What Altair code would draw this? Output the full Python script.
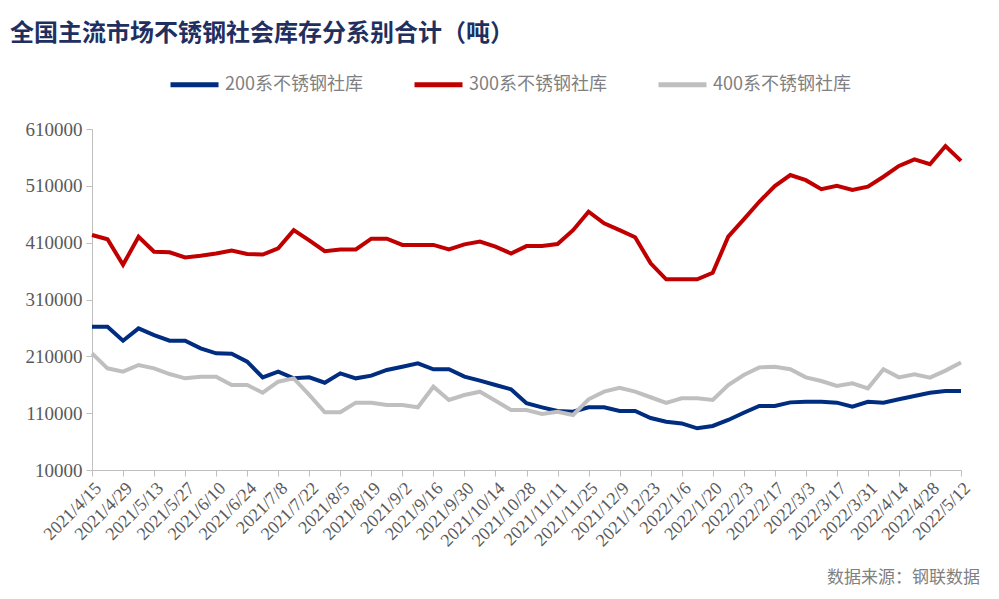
import altair as alt
import pandas as pd

# weekly dates (categories)
dates = [f"{d.year}/{d.month}/{d.day}" for d in pd.date_range("2021-04-15", periods=57, freq="7D")]
tick_labels = dates[::2]

series_names = ["200系不锈钢社库", "300系不锈钢社库", "400系不锈钢社库"]
colors = ["#002d80", "#c00000", "#bfbfbf"]

s200 = [262200, 262200, 237500, 259300, 247500, 237500, 237500, 224000, 215300, 214700,
        200600, 173000, 183000, 171300, 173000, 163600, 180000, 171300, 176000, 186000,
        191800, 197700, 187200, 187200, 174200, 167200, 159600, 152000, 127400, 120300,
        113800, 112600, 120300, 120300, 113800, 113800, 101500, 95000, 92000, 83400,
        87500, 98000, 110800, 122600, 122600, 129000, 130000, 130000, 128500, 121400,
        130000, 128500, 134400, 140200, 146000, 149000, 149000]
s300 = [423500, 416000, 371000, 420500, 394000, 393000, 384000, 387000, 391000, 396000,
        390000, 389000, 400000, 432000, 414000, 395000, 398000, 398000, 417000, 417000,
        406000, 406000, 406000, 398000, 407000, 412000, 403000, 391000, 404000, 404000,
        407500, 432000, 464500, 444000, 432000, 419500, 373700, 345500, 345500, 345500,
        357000, 420500, 451000, 482000, 509700, 529000, 520000, 504000, 510000, 502700,
        508500, 526000, 545000, 556700, 548000, 580000, 554000]
s400 = [215300, 188900, 183000, 194800, 188900, 178900, 171300, 174200, 174200, 159600,
        159600, 146000, 165400, 171300, 142000, 111500, 111500, 128500, 128500, 124400,
        124400, 120300, 156600, 133200, 142000, 147800, 132000, 115600, 115600, 108600,
        112600, 106800, 134400, 147800, 154800, 147800, 138000, 128000, 136200, 136200,
        133200, 159600, 177200, 190600, 191700, 187200, 173000, 166600, 157800, 162600,
        153700, 187200, 173000, 178300, 172500, 184900, 199000]

y_ticks = [10000, 110000, 210000, 310000, 410000, 510000, 610000]
title_text = "全国主流市场不锈钢社会库存分系别合计（吨）"
source_text = "数据来源：钢联数据"

rows = []
for name, vals in zip(series_names, [s200, s300, s400]):
    for d, v in zip(dates, vals):
        rows.append({"date": d, "series": name, "value": v})
df = pd.DataFrame(rows)

lines = alt.Chart(df).mark_line(strokeWidth=4).encode(
    x=alt.X("date:O", sort=dates,
            scale=alt.Scale(type="point", padding=0),
            axis=alt.Axis(values=tick_labels, title=None, labelAngle=-45,
                          labelAlign="right", labelBaseline="top",
                          labelFont="Liberation Serif", labelFontSize=18,
                          labelColor="#595959", labelPadding=3,
                          tickSize=6, tickColor="#bfbfbf", domainColor="#bfbfbf",
                          grid=False, labelOverlap=False)),
    y=alt.Y("value:Q",
            scale=alt.Scale(domain=[10000, 610000], nice=False, zero=False),
            axis=alt.Axis(values=y_ticks, title=None, format="d",
                          labelFont="Liberation Serif", labelFontSize=19,
                          labelColor="#595959", labelPadding=4,
                          tickSize=6, tickColor="#bfbfbf", domainColor="#bfbfbf",
                          grid=False)),
    color=alt.Color("series:N", sort=series_names,
                    scale=alt.Scale(domain=series_names, range=colors),
                    legend=alt.Legend(title=None, orient="none", direction="horizontal",
                                      legendX=76, legendY=-71,
                                      symbolType="stroke", symbolSize=2304,
                                      symbolStrokeWidth=5, labelOffset=4,
                                      labelFont="Noto Sans CJK SC", labelFontSize=18,
                                      labelColor="#808080", columnPadding=41,
                                      labelLimit=300)),
)

src = alt.Chart(pd.DataFrame({"t": [source_text]})).mark_text(
    align="right", baseline="middle", font="Noto Sans CJK SC", fontSize=17, color="#808080"
).encode(x=alt.value(888), y=alt.value(449), text="t:N")

chart = alt.layer(lines, src).properties(
    width=869, height=341,
    title=alt.TitleParams(title_text, anchor="start", frame="group", dx=-82,
                          font="Noto Sans CJK SC", fontSize=24, fontWeight="bold",
                          color="#1f3060", offset=12),
    autosize=alt.AutoSizeParams(type="none"),
    padding={"left": 84, "top": 121, "right": 30, "bottom": 121},
).configure_view(stroke=None)

chart.save("out.html", embed_options={"renderer": "svg", "actions": False})
